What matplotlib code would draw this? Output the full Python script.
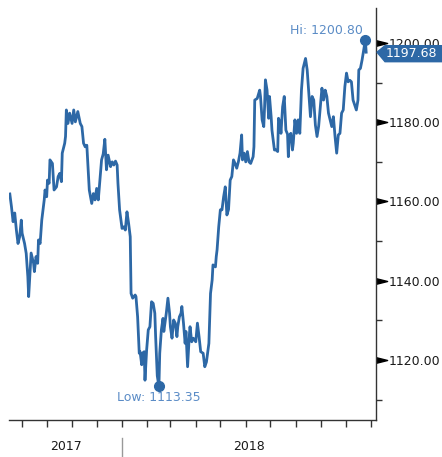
import numpy as np
import matplotlib
matplotlib.use('Agg')
import matplotlib.pyplot as plt
import matplotlib.dates as mdates
from matplotlib.patches import Polygon
from matplotlib.transforms import IdentityTransform
from matplotlib.ticker import NullFormatter, FixedLocator

# Price series (days counted from start date)
start = np.datetime64('2017-08-16')
days = [1, 3, 5, 7, 9, 11, 13, 15, 16, 19,
        21, 23, 24, 27, 30, 31, 33, 35, 36, 38,
        40, 43, 44, 46, 47, 49, 50, 53, 55, 58,
        60, 62, 64, 65, 68, 69, 70, 72, 74, 77,
        79, 81, 84, 87, 89, 91, 93, 95, 96, 98,
        101, 103, 105, 107, 109, 113, 115, 117, 119, 121,
        124, 126, 128, 130, 132, 133, 135, 138, 140, 142,
        144, 146, 148, 149, 151, 154, 155, 157, 159, 160,
        162, 163, 165, 166, 168, 170, 172, 174, 176, 178,
        179, 181, 183, 184, 186, 188, 189, 192, 194, 196,
        197, 199, 201, 203, 205, 206, 208, 210, 211, 213,
        215, 216, 218, 220, 221, 223, 225, 228, 230, 232,
        234, 237, 239, 241, 244, 246, 248, 249, 252, 253,
        254, 256, 258, 260, 262, 264, 266, 268, 270, 272,
        274, 276, 278, 280, 282, 284, 285, 287, 289, 291,
        293, 295, 298, 299, 300, 303, 306, 307, 309, 311,
        312, 313, 315, 317, 318, 320, 321, 324, 326, 328,
        329, 331, 332, 334, 336, 338, 340, 341, 342, 344,
        346, 347, 349, 351, 353, 355, 357, 359, 362, 364,
        366, 368, 370, 372, 374, 376, 378, 380, 382, 384,
        386, 388, 390, 392, 394, 396, 398, 400, 402, 404,
        406, 408, 410, 412, 414, 416, 418, 420, 424, 426,
        427, 429, 431, 433, 435, 436]
values = [1161.9, 1158.7, 1154.9, 1157.1, 1152.8, 1149.4, 1151.1, 1155.3, 1152.0, 1149.4,
          1146.9, 1141.0, 1136.0, 1147.0, 1144.4, 1142.3, 1146.1, 1144.4, 1150.3, 1149.4,
          1155.3, 1160.4, 1162.9, 1161.2, 1165.4, 1164.6, 1170.5, 1169.6, 1162.9, 1163.7,
          1166.3, 1167.1, 1165.0, 1172.2, 1174.7, 1176.4, 1183.1, 1179.7, 1182.3, 1179.7,
          1183.1, 1180.1, 1182.7, 1179.7, 1178.9, 1174.7, 1173.8, 1174.2, 1170.5, 1162.9,
          1159.5, 1162.0, 1160.4, 1163.3, 1160.4, 1170.5, 1172.0, 1175.7, 1168.0, 1171.7,
          1168.8, 1170.0, 1169.2, 1170.2, 1169.2, 1164.6, 1157.9, 1153.2, 1153.6, 1152.8,
          1157.4, 1154.5, 1151.1, 1136.8, 1135.6, 1136.4, 1136.0, 1130.9, 1121.7, 1122.1,
          1118.8, 1121.7, 1122.1, 1114.9, 1122.5, 1127.6, 1128.4, 1134.7, 1134.3, 1131.8,
          1125.9, 1116.0, 1113.35, 1121.7, 1127.6, 1130.5, 1127.2, 1131.8, 1135.6, 1131.8,
          1128.4, 1125.5, 1130.1, 1129.3, 1125.9, 1128.4, 1130.9, 1131.8, 1133.5, 1129.3,
          1124.2, 1127.2, 1118.3, 1125.9, 1128.4, 1124.6, 1125.5, 1124.6, 1129.3, 1125.9,
          1122.1, 1121.7, 1118.3, 1119.5, 1124.2, 1136.8, 1140.2, 1144.0, 1143.5, 1146.1,
          1147.8, 1153.6, 1157.9, 1157.9, 1161.2, 1163.7, 1156.6, 1158.0, 1165.4, 1166.3,
          1170.5, 1169.6, 1168.4, 1170.0, 1172.2, 1176.8, 1170.5, 1172.2, 1170.0, 1172.6,
          1170.0, 1169.6, 1171.3, 1173.8, 1185.6, 1186.0, 1188.1, 1186.5, 1180.6, 1178.9,
          1183.9, 1190.7, 1188.1, 1181.0, 1186.5, 1181.4, 1178.0, 1173.0, 1173.0, 1172.6,
          1181.0, 1179.7, 1177.2, 1183.9, 1186.5, 1178.0, 1177.0, 1171.3, 1176.4, 1177.2,
          1173.0, 1174.7, 1180.6, 1177.2, 1180.6, 1177.2, 1188.1, 1193.6, 1196.1, 1193.2,
          1187.3, 1181.4, 1186.5, 1185.6, 1179.3, 1176.4, 1179.0, 1183.9, 1188.6, 1185.6,
          1188.1, 1186.5, 1182.3, 1180.6, 1178.9, 1181.4, 1176.4, 1172.2, 1176.8, 1177.2,
          1182.3, 1183.1, 1189.0, 1192.4, 1190.2, 1190.6, 1190.2, 1185.6, 1183.1, 1185.6,
          1193.2, 1193.6, 1195.7, 1198.2, 1200.8, 1197.68]
yticks = [1120, 1140, 1160, 1180, 1200]
yminor = [1110, 1130, 1150, 1170, 1190]
years = ['2017', '2018']

dates = start + np.array(days).astype('timedelta64[D]')
values = np.array(values)

line_color = '#2d68a6'
label_color = '#5b8cc6'
axis_color = '#333333'

fig = plt.figure(figsize=(4.42, 4.57), dpi=100)
ax = fig.add_axes([9 / 442, 37 / 457, 367 / 442, 412 / 457])

ax.plot(dates, values, color=line_color, lw=2.0, solid_joinstyle='round', zorder=3)

x_left = start
x_right = start + np.timedelta64(448, 'D')
ax.set_xlim(x_left, x_right)
ax.set_ylim(1104.86, 1208.83)

for s in ['left', 'top']:
    ax.spines[s].set_visible(False)
for s in ['right', 'bottom']:
    ax.spines[s].set_color(axis_color)
    ax.spines[s].set_linewidth(1.0)

# y axis on the right, triangle markers for major ticks
ax.yaxis.tick_right()
ax.set_yticks(yticks)
ax.set_yticklabels(['%.2f' % v for v in yticks])
ax.yaxis.set_minor_locator(FixedLocator(yminor))
ax.tick_params(axis='y', which='major', length=0, pad=9.4, labelsize=9, labelcolor='#1a1a1a')
ax.tick_params(axis='y', which='minor', length=4, width=1, color=axis_color, direction='out')
ax.plot(np.ones(len(yticks)), yticks, transform=ax.get_yaxis_transform(),
        marker=[(0, -0.25), (1, 0), (0, 0.25)], ms=16, color='black', ls='none', clip_on=False)

# x axis: monthly ticks, year labels
ax.xaxis.set_major_locator(mdates.MonthLocator())
ax.xaxis.set_major_formatter(NullFormatter())
ax.tick_params(axis='x', which='major', length=5, width=1, color=axis_color, direction='out')

xl = mdates.date2num(x_left)
xj = mdates.date2num(np.datetime64('2018-01-01'))
xr = mdates.date2num(x_right)
xt = ax.get_xaxis_transform()
ax.text((xl + xj) / 2, -0.065, years[0], transform=xt, ha='center', va='center',
        fontsize=9, color='#1a1a1a')
ax.text((xj + xr) / 2, -0.065, years[1], transform=xt, ha='center', va='center',
        fontsize=9, color='#1a1a1a')
ax.plot([xj, xj], [-0.044, -0.092], transform=xt, color='#999999', lw=1, clip_on=False)

# high / low markers
ihi = int(np.argmax(values))
ilo = int(np.argmin(values))
ax.plot(dates[ihi], values[ihi], 'o', ms=7, color=line_color, zorder=4)
ax.plot(dates[ilo], values[ilo], 'o', ms=7, color=line_color, zorder=4)
ax.annotate('Hi: %.2f' % values[ihi], (dates[ihi], values[ihi]), xytext=(-1.5, 6.5),
            textcoords='offset points', ha='right', va='center', fontsize=9, color=label_color)
ax.annotate('Low: %.2f' % values[ilo], (dates[ilo], values[ilo]), xytext=(0, -8.3),
            textcoords='offset points', ha='center', va='center', fontsize=9, color=label_color)

# last value tag
px, py = ax.transData.transform((mdates.date2num(dates[-1]), values[-1]))
sx = ax.transAxes.transform((1, 0))[0]
py = py - 1.5
verts = [(sx + 1, py + 1.5), (sx + 9, py + 8), (442, py + 8), (442, py - 8), (sx + 9, py - 8)]
tag = Polygon(verts, closed=True, transform=IdentityTransform(), facecolor=line_color,
              edgecolor=line_color, zorder=5)
fig.add_artist(tag)
fig.text(sx + 10, py, '%.2f' % values[-1], transform=IdentityTransform(), color='white',
         va='center', ha='left', fontsize=9, zorder=6)

fig.savefig('out.png', dpi=100)
